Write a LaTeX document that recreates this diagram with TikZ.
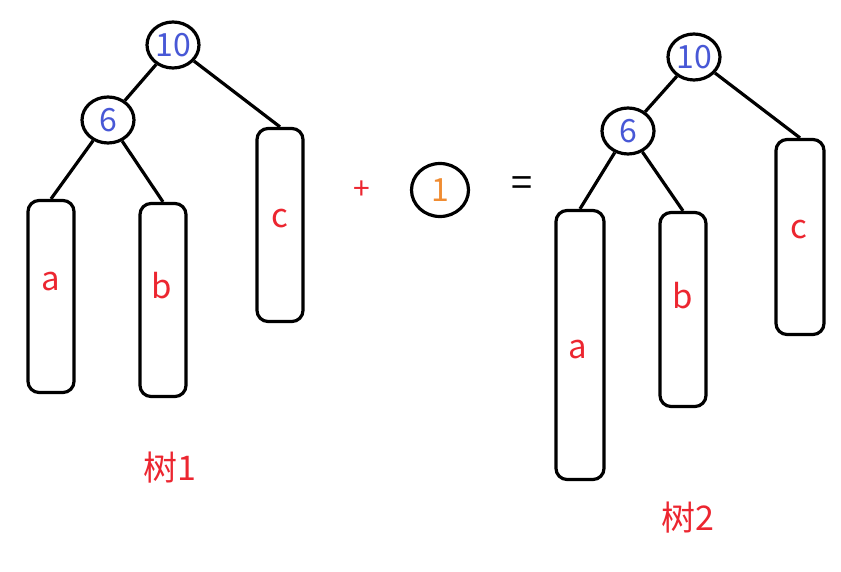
\documentclass[tikz,border=0pt]{standalone}
\usepackage{fontspec}
\setmainfont{Noto Sans CJK SC}
\definecolor{nblue}{RGB}{72,88,214}
\definecolor{lred}{RGB}{236,38,48}
\definecolor{lorange}{RGB}{240,140,50}
\tikzset{
  num/.style={draw, line width=3.2pt, ellipse, inner sep=0pt, minimum width=52pt, minimum height=46pt, text=nblue, font=\fontsize{32}{32}\selectfont},
  leaf/.style={draw, line width=3.2pt, rectangle, rounded corners=11pt, minimum width=46pt, inner sep=0pt},
  lab/.style={text=lred, font=\fontsize{33}{33}\selectfont, inner sep=0pt},
  edge/.style={line width=3.2pt},
}
\usetikzlibrary{shapes.geometric}
\begin{document}
\begin{tikzpicture}[x=1pt,y=-1pt]
\useasboundingbox (0,0) rectangle (841,572);
% tree 1
\node[num] (r1) at (173,45) {10};
\node[num] (s1) at (108,120) {6};
\node[leaf, minimum height=192pt] (a1) at (51,296.5) {};
\node[leaf, minimum height=193pt] (b1) at (163,300) {};
\node[leaf, minimum height=193pt] (c1) at (280,225) {};
\node[lab] (la1) at (51,282) {a};
\node[lab] (lb1) at (162,286) {b};
\node[lab] (lc1) at (280,219) {c};
\draw[edge] (r1) -- (s1);
\draw[edge] (r1) -- (c1.north);
\draw[edge] (s1) -- (a1.north);
\draw[edge] (s1) -- (b1.north);
\node[text=lred, font=\fontsize{34}{34}\selectfont] (t1) at (170,468) {树1};
% middle
\node[text=lred, font=\fontsize{30}{30}\selectfont] (plus) at (362,190) {+};
\node[num, minimum width=57pt, minimum height=53pt, text=lorange] (one) at (440,190) {1};
\node[font=\fontsize{38}{38}\selectfont] (eq) at (522,187) {=};
% tree 2
\node[num] (r2) at (694,57) {10};
\node[num] (s2) at (628,131) {6};
\node[leaf, minimum height=269pt, minimum width=48pt] (a2) at (580,345) {};
\node[leaf, minimum height=194pt] (b2) at (683,309.5) {};
\node[leaf, minimum height=195pt, minimum width=48pt] (c2) at (800,237) {};
\node[lab] (la2) at (578,350) {a};
\node[lab] (lb2) at (683,296) {b};
\node[lab] (lc2) at (799,230) {c};
\draw[edge] (r2) -- (s2);
\draw[edge] (r2) -- (c2.north);
\draw[edge] (s2) -- (a2.north);
\draw[edge] (s2) -- (b2.north);
\node[text=lred, font=\fontsize{34}{34}\selectfont] (t2) at (688,518) {树2};
\end{tikzpicture}
\end{document}
